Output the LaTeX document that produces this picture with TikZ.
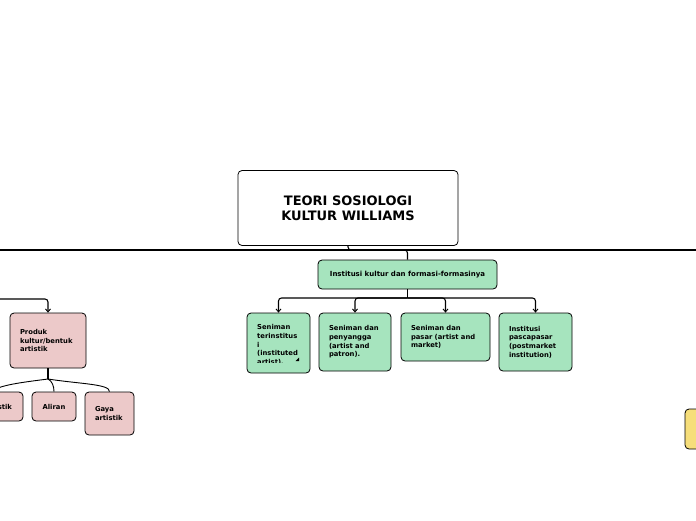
\documentclass[tikz,border=0pt]{standalone}
\usepackage{fontspec}
\setmainfont{DejaVu Sans}
\usetikzlibrary{arrows.meta}
\definecolor{mint}{RGB}{166,228,190}
\definecolor{rose}{RGB}{236,201,201}
\definecolor{sand}{RGB}{246,222,122}
\tikzset{
  card/.style={draw=black, line width=0.8pt, rounded corners=4pt, inner sep=0pt, anchor=center},
  small/.style={font=\fontsize{6.8}{8.6}\selectfont\bfseries},
  conn/.style={draw=black, line width=1.1pt},
  arr/.style={conn, -{Straight Barb[length=3pt,width=5pt,line width=0.9pt]}, rounded corners=3pt},
}
\begin{document}
\begin{tikzpicture}[x=1pt,y=-1pt]
\useasboundingbox (0,0) rectangle (696,520);
\fill[white] (0,0) rectangle (696,520);
% main
\node[card, fill=white, minimum width=220, minimum height=75, align=center,
  font=\fontsize{13}{15}\selectfont\bfseries] (main) at (348,208) {TEORI SOSIOLOGI\\KULTUR WILLIAMS};
% long line
\coordinate (farL) at (-5,250);
\coordinate (farR) at (701,250);
\draw[conn] (farL) -- (farR);
% institusi
\node[card, fill=mint, minimum width=179, minimum height=29, font=\fontsize{7}{8}\selectfont\bfseries] (inst) at (407.5,274.5) {Institusi kultur dan formasi-formasinya};
\coordinate (j1) at (407.5,250);
\draw[conn, rounded corners=3pt] (main.south) |- (j1) -- (inst.north);
% children
\node[card, fill=mint, minimum width=63, minimum height=60] (c1) at (278.5,343) {};
\begin{scope}
\clip (247,313) rectangle (310,362.5);
\node[small, anchor=north west, align=left, inner sep=0pt] (c1t) at (257,324.5) {Seniman\\terinstitus\\i\\(instituted\\artist).};
\end{scope}
\fill[black] (299,357.5) -- (299,361) -- (295.5,361) -- cycle;
\node[card, fill=mint, minimum width=72, minimum height=58, small, align=left, text width=52] (c2) at (355,342) {Seniman dan\\penyangga\\(artist and\\patron).};
\node[card, fill=mint, minimum width=89, minimum height=48, small, align=left, text width=69] (c3) at (445.5,337) {Seniman dan\\pasar (artist and\\market)};
\node[card, fill=mint, minimum width=73, minimum height=58, small, align=left, text width=53] (c4) at (535.5,342) {Institusi\\pascapasar\\(postmarket\\institution)};
\coordinate (hub) at (407.5,298);
\draw[conn] (inst.south) -- (hub);
\draw[arr] (hub) -| (c1.north);
\draw[arr] (hub) -| (c2.north);
\draw[arr] (hub) -| (c3.north);
\draw[arr] (hub) -| (c4.north);
% produk branch
\node[card, fill=rose, minimum width=76, minimum height=55, small, align=left, text width=56] (produk) at (48,340.5) {Produk\\kultur/bentuk\\artistik};
\coordinate (pl) at (-5,299);
\draw[arr] (pl) -| (produk.north);
\node[card, fill=rose, minimum width=62, minimum height=29, small] (b1) at (-8,406.5) {\makebox[40pt][r]{stik}};
\node[card, fill=rose, minimum width=44, minimum height=29, small] (b2) at (54,406.5) {Aliran};
\node[card, fill=rose, minimum width=49, minimum height=43, small, align=left, text width=29] (b3) at (109.5,413.5) {Gaya\\artistik};
\coordinate (pj) at (48,379);
\draw[conn] (produk.south) -- (pj);
\draw[conn, line width=0.9pt] (pj) .. controls (25,382) and (-2,385) .. (b1.north);
\draw[conn, line width=0.9pt] (pj) .. controls (52,381) and (54,386) .. (b2.north);
\draw[conn, line width=0.9pt] (pj) .. controls (80,384) and (110,384) .. (b3.north);
% yellow
\node[card, fill=sand, minimum width=40, minimum height=40] (y1) at (705,429) {};
\end{tikzpicture}
\end{document}
